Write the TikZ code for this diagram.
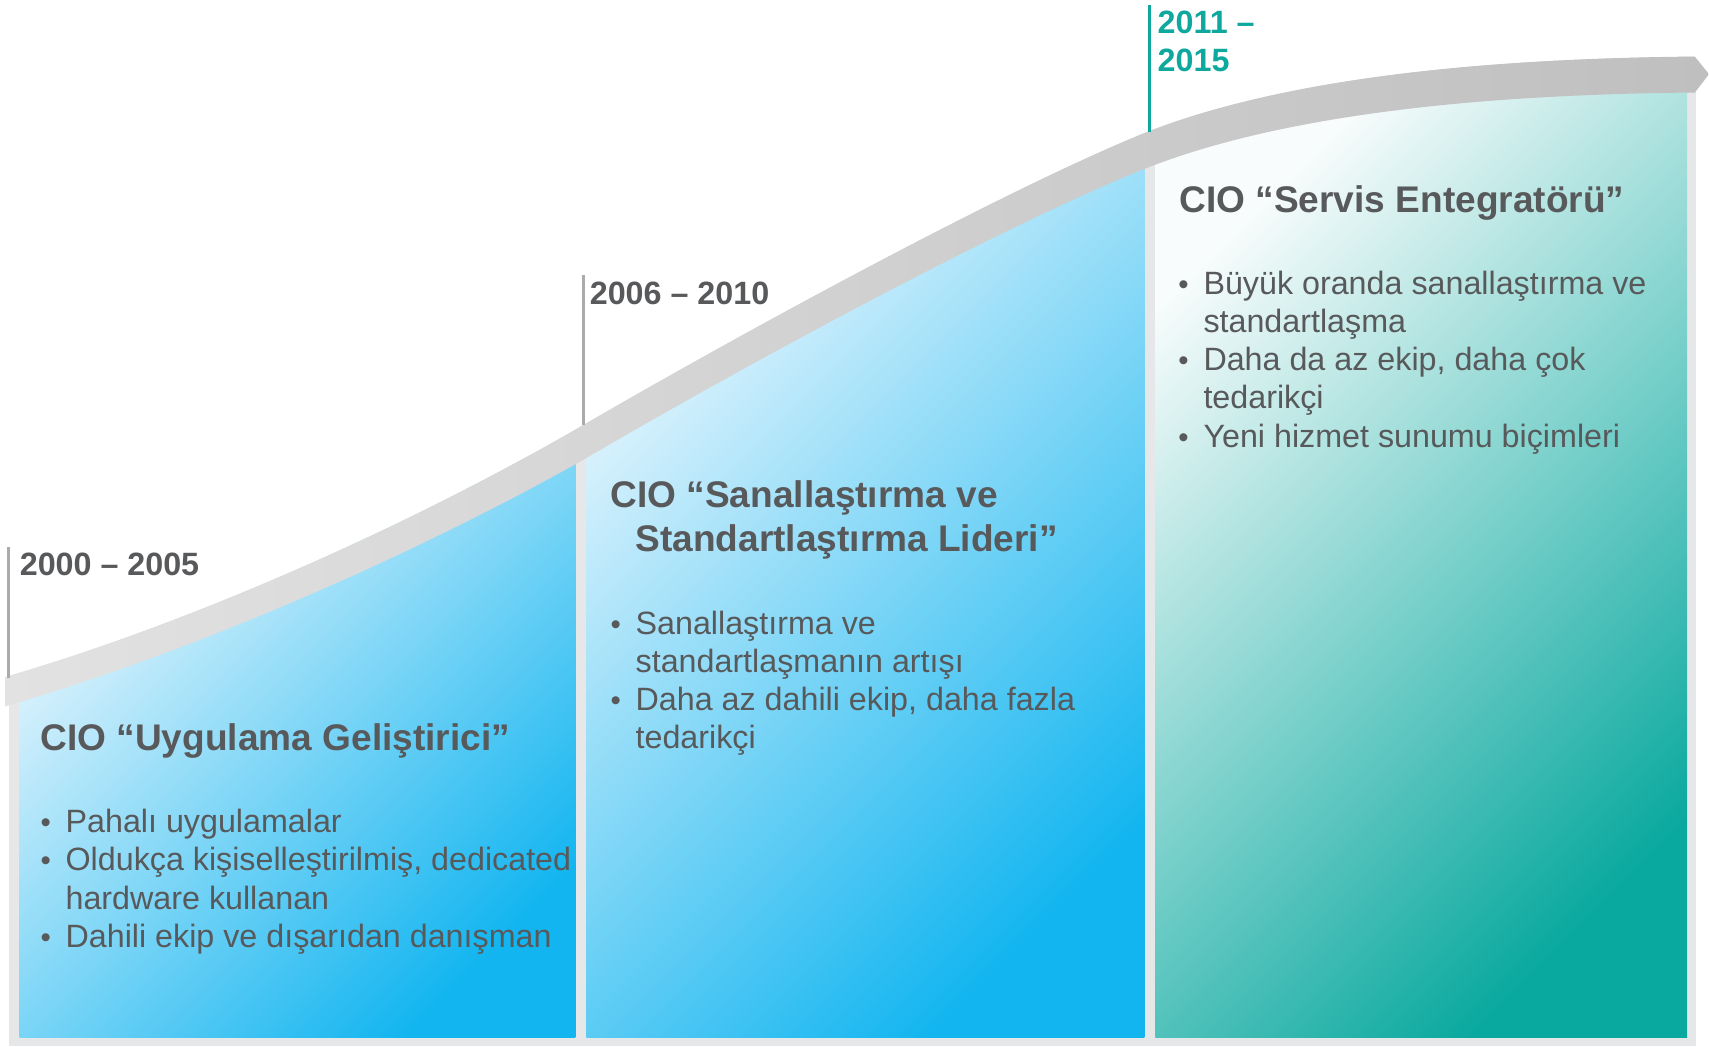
\documentclass[tikz,border=0pt]{standalone}
\usepackage{fontspec}
\setmainfont{Liberation Sans}
\definecolor{txt}{HTML}{58595B}
\definecolor{tealtxt}{HTML}{0FA89E}
\definecolor{bgstrip}{HTML}{E6E7E8}
\definecolor{blueL}{HTML}{E8F6FD}
\definecolor{blueM}{HTML}{ACDFF7}
\definecolor{blueD}{HTML}{12B5F0}
\definecolor{tealL}{HTML}{F8FCFC}
\definecolor{tealM}{HTML}{B4E2DF}
\definecolor{tealD}{HTML}{0AA99F}
\definecolor{bandL}{HTML}{E2E2E2}
\definecolor{bandR}{HTML}{BFBFBF}
\definecolor{tickgray}{HTML}{ABABAB}
\begin{document}
\begin{tikzpicture}[x=1pt,y=-1pt,
  year/.style={anchor=base west, inner sep=0pt, font=\fontsize{29.6}{35}\selectfont\bfseries, text=txt},
  title/.style={anchor=base west, inner sep=0pt, font=\fontsize{34}{40}\selectfont\bfseries, text=txt},
  item/.style={anchor=base west, inner sep=0pt, font=\fontsize{29.6}{35}\selectfont, text=txt},
  dot/.style={anchor=base west, inner sep=0pt, font=\fontsize{27}{35}\selectfont, text=txt},
  tickline/.style={draw=tickgray, line width=2.6pt},
  panelblue/.style={top color=blueL, middle color=blueM, bottom color=blueD, shading angle=45},
  panelteal/.style={top color=tealL, middle color=tealM, bottom color=tealD, shading angle=45}
]
\useasboundingbox (0,0) rectangle (1568,960);
% background strips
\fill[bgstrip] (8,40) rectangle (1556,960);
% panels
\shade[panelblue] (18,420) rectangle (528,952);
\shade[panelblue] (538,150) rectangle (1050,952);
\shade[panelteal] (1060,80) rectangle (1548,952);
% white area above the band
\fill[white] (0,-2) -- (0,621) -- (5,621) .. controls (180,570) and (380,480) .. (535,390)
  .. controls (690,300) and (930,170) .. (1055,120)
  .. controls (1190,68) and (1380,54) .. (1545,52) -- (1555,52) -- (1570,70) -- (1570,-2) -- cycle;
% band
\shade[left color=bandL, right color=bandR] (5,621) .. controls (180,570) and (380,480) .. (535,390)
  .. controls (690,300) and (930,170) .. (1055,120)
  .. controls (1190,68) and (1380,54) .. (1545,52) -- (1555,52) -- (1568,68) -- (1555,85) -- (1545,85)
  .. controls (1380,87) and (1190,101) .. (1055,153)
  .. controls (930,202) and (690,331) .. (535,422)
  .. controls (380,509) and (180,597) .. (5,648) -- cycle;
% ticks
\coordinate (k1a) at (8,502); \coordinate (k1b) at (8,622);
\coordinate (k2a) at (535,252); \coordinate (k2b) at (535,390);
\coordinate (k3a) at (1055,5); \coordinate (k3b) at (1055,121);
\draw[tickline] (k1a) -- (k1b);
\draw[tickline] (k2a) -- (k2b);
\draw[tickline, draw=tealtxt] (k3a) -- (k3b);
% years
\node[year] (y1) at (18,528) {2000 – 2005};
\node[year] (y2) at (541,279) {2006 – 2010};
\node[year, text=tealtxt] (y3a) at (1062,31) {2011 –};
\node[year, text=tealtxt] (y3b) at (1062,66) {2015};
% titles
\node[title] (t1) at (37,689) {CIO “Uygulama Geliştirici”};
\node[title] (t2a) at (560,466) {CIO “Sanallaştırma ve};
\node[title] (t2b) at (583,506) {Standartlaştırma Lideri”};
\node[title] (t3) at (1082,195) {CIO “Servis Entegratörü”};
% panel 1 items
\node[dot] (d11) at (37,764) {•};
\node[item] (i11) at (60,764) {Pahalı uygulamalar};
\node[dot] (d12) at (37,799) {•};
\node[item] (i12) at (60,799) {Oldukça kişiselleştirilmiş, dedicated};
\node[item] (i13) at (60,834) {hardware kullanan};
\node[dot] (d13) at (37,869) {•};
\node[item] (i14) at (60,869) {Dahili ekip ve dışarıdan danışman};
% panel 2 items
\node[dot] (d21) at (560,582) {•};
\node[item] (i21) at (583,582) {Sanallaştırma ve};
\node[item] (i22) at (583,617) {standartlaşmanın artışı};
\node[dot] (d22) at (560,652) {•};
\node[item] (i23) at (583,652) {Daha az dahili ekip, daha fazla};
\node[item] (i24) at (583,687) {tedarikçi};
% panel 3 items
\node[dot] (d31) at (1081,270) {•};
\node[item] (i31) at (1104,270) {Büyük oranda sanallaştırma ve};
\node[item] (i32) at (1104,305) {standartlaşma};
\node[dot] (d32) at (1081,340) {•};
\node[item] (i33) at (1104,340) {Daha da az ekip, daha çok};
\node[item] (i34) at (1104,375) {tedarikçi};
\node[dot] (d33) at (1081,411) {•};
\node[item] (i35) at (1104,411) {Yeni hizmet sunumu biçimleri};
\end{tikzpicture}
\end{document}
